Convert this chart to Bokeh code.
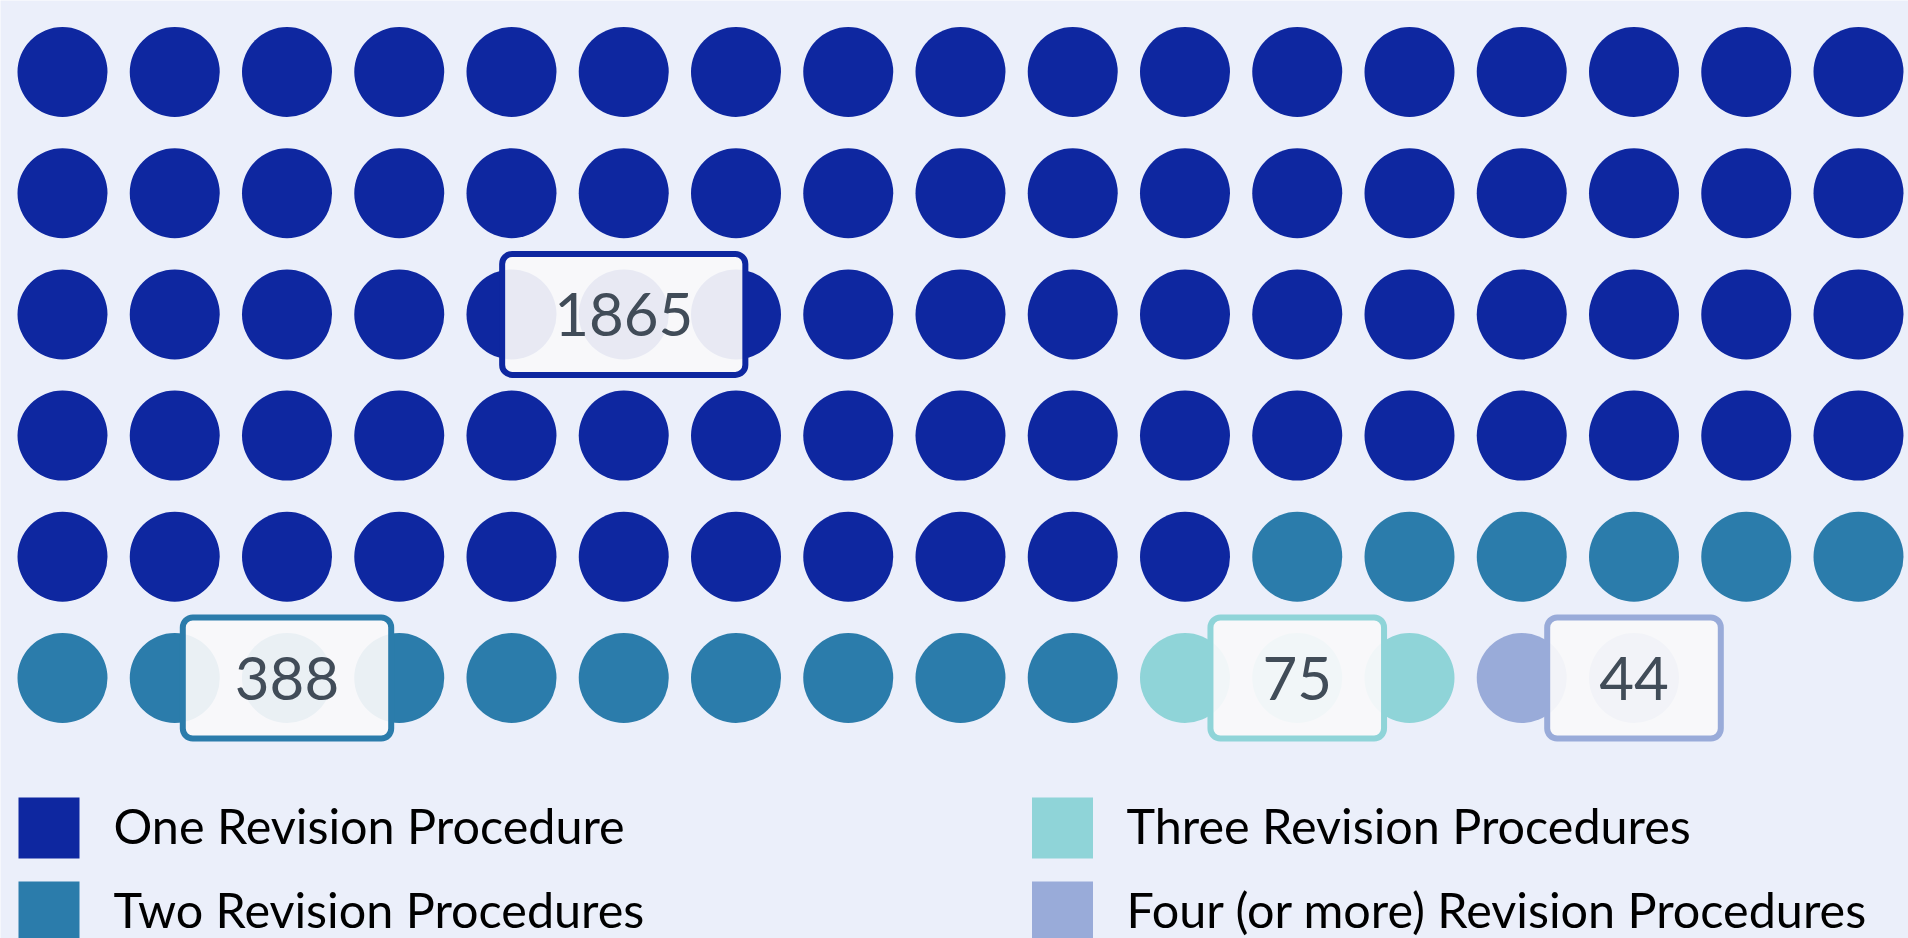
from bokeh.plotting import figure
from bokeh.models import Range1d, Label, ColumnDataSource
from bokeh.core.properties import value
from bokeh.embed import file_html
from bokeh.resources import INLINE

# ---- data ----
categories = ["One Revision Procedure", "Two Revision Procedures",
              "Three Revision Procedures", "Four (or more) Revision Procedures"]
counts = [1865, 388, 75, 44]
dot_counts = [79, 16, 3, 2]          # dots per category (out of 100)
colors = ["#0e27a0", "#2b7cab", "#8fd4d8", "#99abd9"]
n_cols = 17

# ---- layout (pixels) ----
W, H = 1908, 938
ORIGIN = 0                      # bokeh's page template uses no body margin
x0_px, dx_px = 62.0, 112.25     # first column centre, column spacing (page px)
y0_px, dy_px = 71.5, 121.2      # first row centre, row spacing (page px)

def px_x(px):
    return (px - x0_px) / dx_px

def px_y(py):
    return (py - y0_px) / dy_px

p = figure(width=W, height=H, output_backend="svg", toolbar_location=None,
           x_range=Range1d(px_x(ORIGIN), px_x(ORIGIN + W)),
           y_range=Range1d(px_y(ORIGIN + H), px_y(ORIGIN)),
           min_border=0, background_fill_color="#ebeffa",
           border_fill_color="#ebeffa", outline_line_color=None)
p.axis.visible = False
p.grid.visible = False

xs, ys, cs = [], [], []
i = 0
label_pos = []
for k, n in enumerate(dot_counts):
    mid = i + n // 2
    label_pos.append((mid % n_cols, mid // n_cols))
    for j in range(n):
        xs.append(i % n_cols)
        ys.append(i // n_cols)
        cs.append(colors[k])
        i += 1

src = ColumnDataSource(dict(x=xs, y=ys, c=cs))
p.scatter("x", "y", source=src, size=90, fill_color="c", line_color=None)

# ---- value labels ----
font = "Lato"
pad = dict(left=52, right=52, top=39, bottom=39)
for k, (cx, cy) in enumerate(label_pos):
    for off, a in ((-8, 0.08), (-5, 0.10), (-2, 0.10)):
        p.add_layout(Label(x=cx, y=cy, text=str(counts[k]), text_align="center",
                           text_baseline="middle", text_font=font,
                           text_font_size="60px", text_alpha=0.0,
                           y_offset=off,
                           background_fill_color="#303040", background_fill_alpha=a,
                           border_line_color=None, border_radius=12,
                           padding=pad))
    p.add_layout(Label(x=cx, y=cy, text=str(counts[k]), text_align="center",
                       text_baseline="middle", text_font=font,
                       text_font_size="60px", text_color="#414c58",
                       background_fill_color="#f9f9fa", background_fill_alpha=0.93,
                       border_line_color=colors[k], border_line_width=6,
                       border_radius=10, padding=pad))

# ---- legend ----
leg_sq_x = [48.5, 48.5, 1062.0, 1062.0]
leg_tx_x = [113.0, 113.0, 1126.0, 1126.0]
leg_y = [827.5, 911.5, 827.5, 911.5]
p.scatter([px_x(v) for v in leg_sq_x], [px_y(v) for v in leg_y], marker="square",
          size=61, fill_color=colors, line_color=None)
p.text([px_x(v) for v in leg_tx_x], [px_y(v - 3) for v in leg_y], text=categories,
       text_font=value(font), text_font_size="48.5px", text_color="#000000",
       text_baseline="middle", text_align="left")

open("out.html", "w").write(file_html(p, INLINE))
